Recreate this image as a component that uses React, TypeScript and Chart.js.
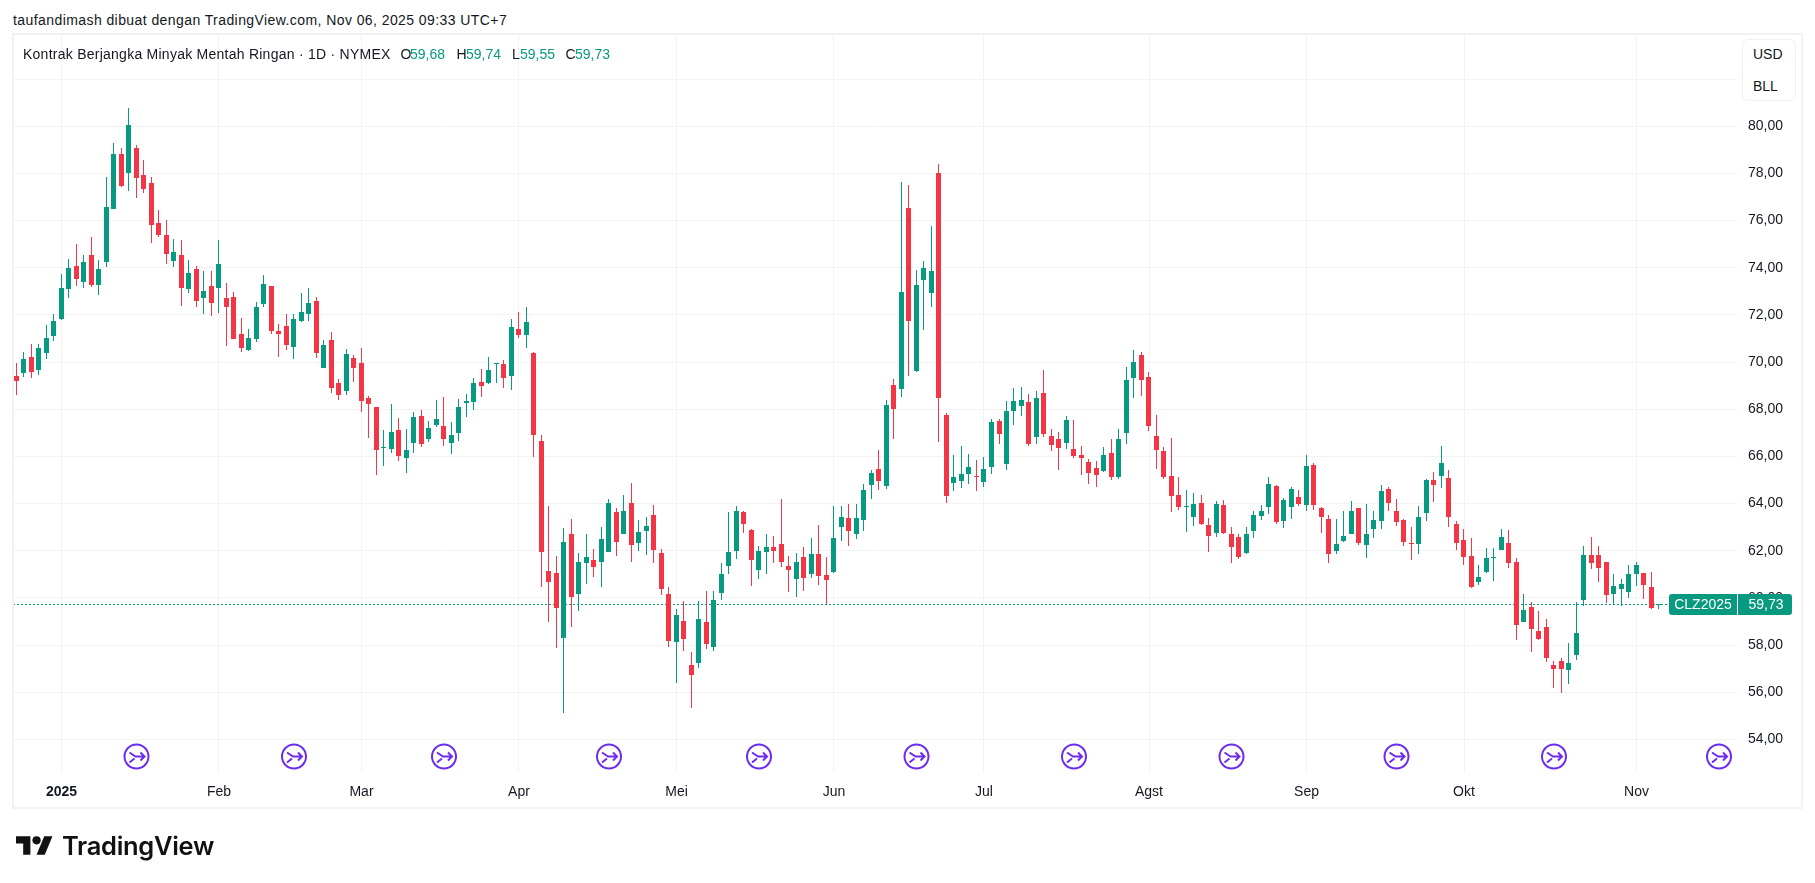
import React, { useEffect, useRef } from "react";
import { Chart, registerables } from "chart.js";

Chart.register(...registerables);

const opens = [
  69.41,69.54,70.22,69.67,70.39,71.11,71.83,73.10,74.08,73.40,
  74.54,73.27,74.25,76.50,78.83,78.02,79.08,77.94,77.60,75.90,
  75.39,74.29,74.54,73.10,73.95,72.72,73.23,73.14,72.72,72.76,
  71.19,70.52,70.98,72.47,73.23,71.32,71.53,70.64,71.74,72.04,
  72.59,69.75,70.94,69.12,68.78,70.18,69.96,68.48,68.10,66.37,
  66.32,67.12,65.94,66.57,67.72,66.74,67.34,67.29,66.57,67.00,
  68.28,68.31,69.16,69.12,69.94,69.92,69.41,71.41,71.15,70.37,
  66.65,61.14,61.06,58.30,62.71,60.17,61.48,61.61,61.52,61.95,
  63.64,62.71,64.02,62.33,62.84,63.52,61.90,60.17,58.13,59.02,
  57.15,57.24,58.98,57.92,60.21,61.35,61.99,63.64,62.88,61.18,
  61.95,62.16,62.29,61.35,60.80,61.73,61.01,61.86,60.97,61.10,
  63.01,63.39,62.71,63.30,64.79,65.47,64.75,69.03,68.86,76.54,
  69.62,73.48,72.93,78.02,67.76,64.87,64.96,65.25,65.17,64.91,
  65.55,67.50,65.68,67.93,68.14,68.31,66.82,68.69,66.87,66.74,
  66.57,66.31,66.06,65.76,65.51,65.38,66.14,65.13,66.99,69.33,
  70.30,69.37,66.87,66.23,65.17,64.36,63.87,63.43,64.02,63.09,
  62.75,63.94,62.71,62.58,61.90,62.84,63.47,63.85,64.75,63.26,
  63.85,64.28,63.94,65.64,63.81,63.35,61.99,62.41,62.71,63.81,
  62.24,62.92,63.26,64.62,63.69,63.30,62.33,62.29,63.60,65.00,
  65.17,65.09,63.14,62.46,61.78,60.68,61.10,61.70,62.04,62.33,
  61.53,58.98,59.62,58.60,58.77,57.16,57.33,56.95,57.58,59.91,
  61.82,61.82,61.53,60.17,60.38,60.25,61.02,61.06,60.47,59.68,
];
const highs = [
  69.95,70.42,70.76,70.76,71.56,72.04,73.74,74.37,75.01,74.54,
  75.31,74.33,77.85,79.29,79.08,80.78,79.21,78.57,77.85,76.45,
  76.03,75.22,75.18,74.33,74.08,73.87,73.87,75.18,73.36,72.97,
  71.87,71.41,72.55,73.70,73.23,71.62,72.04,72.04,72.93,73.14,
  72.76,70.94,71.28,69.29,70.56,70.30,70.60,68.56,68.10,67.12,
  68.23,67.63,67.16,67.89,67.97,67.50,68.39,68.52,67.46,68.44,
  68.65,69.33,69.71,70.22,69.96,70.09,71.83,72.13,72.32,70.41,
  66.91,63.90,61.78,62.96,63.35,61.90,62.71,62.07,63.01,64.19,
  63.81,64.36,64.87,63.30,63.43,63.94,62.07,60.46,59.53,59.87,
  57.71,59.87,60.29,60.29,61.48,63.64,63.90,63.69,62.92,62.20,
  62.71,62.63,64.19,61.78,61.90,62.16,62.54,63.09,61.73,63.90,
  63.90,63.98,63.98,64.83,65.42,66.27,68.39,69.28,77.64,77.51,
  73.91,74.29,75.77,78.40,67.84,66.06,66.44,66.10,65.85,65.98,
  67.59,67.59,68.35,68.90,68.94,68.65,68.77,69.66,67.16,67.04,
  67.71,67.54,66.44,65.89,65.81,66.40,66.74,67.16,69.79,70.51,
  70.43,69.58,67.76,66.40,66.78,65.13,64.58,64.45,64.36,63.39,
  64.11,64.15,63.00,62.71,63.00,63.69,63.94,65.13,64.79,64.24,
  64.70,64.58,66.06,65.72,63.85,63.52,63.35,63.69,64.11,63.81,
  63.98,63.69,64.79,64.70,64.19,63.35,63.00,63.90,65.04,65.34,
  66.45,65.43,63.26,62.93,62.54,61.40,62.12,62.12,62.93,62.88,
  61.70,60.17,59.83,59.45,59.11,57.33,57.45,58.09,59.83,62.20,
  62.59,62.20,61.53,61.02,60.81,61.40,61.53,61.06,61.10,59.74,
];
const lows = [
  68.61,69.37,69.33,69.46,70.13,70.90,71.79,72.72,73.23,73.14,
  73.19,72.85,74.03,76.50,77.43,77.26,76.96,77.17,75.05,75.32,
  74.16,74.03,72.38,72.93,72.34,72.04,71.96,72.08,70.68,70.98,
  70.43,70.47,70.85,72.34,71.19,70.22,70.52,70.13,71.70,71.74,
  70.18,69.75,68.69,68.39,68.61,69.16,67.89,66.78,65.21,65.60,
  66.15,65.81,65.30,66.15,66.40,66.61,67.25,66.44,66.11,66.66,
  67.67,67.97,68.52,69.07,69.12,68.90,68.82,71.02,70.60,65.98,
  60.46,58.98,57.88,55.12,58.77,59.44,60.59,60.89,60.46,61.95,
  61.78,62.71,61.52,61.99,61.82,61.48,60.12,57.92,56.39,57.75,
  55.33,57.03,57.83,57.75,59.91,61.00,61.65,62.75,60.50,60.80,
  61.01,61.48,61.31,60.25,60.04,60.29,60.84,60.55,59.74,61.06,
  62.41,62.20,62.50,62.84,64.19,64.58,64.62,66.74,68.52,69.41,
  69.58,71.36,72.34,66.61,64.03,64.53,64.66,64.83,64.53,64.70,
  65.25,66.53,65.42,67.33,67.71,66.44,66.53,66.82,66.23,65.42,
  66.31,65.93,65.21,64.83,64.70,65.34,65.00,65.04,66.53,68.48,
  68.56,67.08,65.47,65.04,63.64,63.73,62.80,63.05,63.09,61.95,
  62.58,62.71,61.48,61.65,61.86,62.54,63.30,63.56,63.13,62.97,
  63.35,63.90,63.69,63.73,62.75,61.48,61.86,62.37,62.71,62.24,
  61.69,62.54,62.92,63.69,63.05,62.20,61.61,61.86,63.26,64.07,
  64.66,63.01,62.04,61.40,60.42,60.55,61.06,60.72,62.04,61.27,
  58.22,58.98,57.71,58.22,57.29,56.18,55.97,56.35,57.37,59.66,
  61.23,60.68,59.79,59.70,59.66,60.00,60.51,59.96,59.53,59.55,
];
const closes = [
  69.20,70.13,69.58,70.60,71.02,71.74,73.14,74.00,73.53,74.25,
  73.27,73.95,76.58,78.83,77.47,80.06,77.81,77.34,75.82,75.39,
  74.59,74.67,73.14,73.78,72.59,73.02,72.51,74.16,72.34,70.98,
  70.60,71.02,72.34,73.31,71.32,71.19,70.73,71.83,72.13,72.51,
  70.39,70.73,68.90,68.61,70.35,69.75,68.35,68.23,66.27,66.40,
  67.04,66.02,66.27,67.67,66.53,67.21,67.59,66.74,66.91,68.10,
  68.34,69.12,68.99,69.67,69.96,69.33,71.49,71.15,71.70,66.91,
  61.95,60.67,59.57,62.37,60.04,61.52,61.73,61.31,62.50,64.02,
  62.37,63.69,62.24,62.79,63.05,62.03,60.38,58.17,59.27,58.26,
  56.73,59.11,58.05,59.91,61.01,61.95,63.69,63.13,61.61,61.99,
  62.16,61.99,61.52,61.18,61.52,60.84,61.86,60.93,60.76,62.54,
  63.43,62.84,63.39,64.58,65.30,64.96,68.18,68.01,72.97,71.74,
  73.27,73.99,73.86,68.48,64.32,65.13,65.25,65.55,65.13,65.47,
  67.46,66.95,67.93,68.35,68.39,66.53,68.48,66.95,66.48,66.36,
  67.54,66.02,65.93,65.30,65.21,66.06,65.13,66.74,69.24,70.00,
  69.24,67.29,66.27,65.13,64.32,63.85,63.90,63.98,63.13,62.62,
  63.98,62.75,62.16,61.73,62.71,63.52,63.69,64.83,63.22,64.15,
  64.62,63.98,65.59,63.94,63.43,61.86,62.29,62.62,63.69,62.33,
  62.71,63.30,64.53,64.02,63.22,62.37,62.29,63.43,65.00,64.79,
  65.72,63.43,62.33,61.74,60.47,60.89,61.70,61.74,62.59,61.48,
  58.85,59.49,58.68,58.26,57.45,56.99,56.99,57.24,58.52,61.82,
  61.48,61.27,60.13,60.51,60.59,61.02,61.40,60.55,59.58,59.73,
];

const priceTicks = [54,56,58,60,62,64,66,68,70,72,74,76,78,80,82];
const monthIndex = [6,27,46,67,88,109,129,151,172,193,216];
const monthLabels = ["2025","Feb","Mar","Apr","Mei","Jun","Jul","Agst","Sep","Okt","Nov"];
const eventIndex = [16,37,57,79,99,120,141,162,184,205,227];
const lastPrice = 59.73;
const lastPriceText = "59,73";
const symbolText = "CLZ2025";
const headerText = "taufandimash dibuat dengan TradingView.com, Nov 06, 2025 09:33 UTC+7";
const legendTitle = "Kontrak Berjangka Minyak Mentah Ringan · 1D · NYMEX";

const GREEN = "#089981";
const RED = "#F23645";
const GRID = "#f3f3f3";
const INK = "#131722";
const PURPLE = "#6c2bf0";
const FONT = "'Liberation Sans', sans-serif";

const colorOf = (i: number) => (closes[i] >= opens[i] ? GREEN : RED);
const indices = opens.map((_, i) => i);

const snapPlugin = {
  id: "snap",
  afterDatasetsUpdate(chart: any) {
    chart.data.datasets.forEach((ds: any, d: number) => {
      const els = chart.getDatasetMeta(d).data;
      if (ds.type === "line") {
        els.forEach((el: any) => {
          el.x = Math.round(el.x);
          el.y = Math.floor(el.y) + 0.5;
        });
        return;
      }
      els.forEach((el: any) => {
        const top = Math.round(Math.min(el.y, el.base));
        let bottom = Math.round(Math.max(el.y, el.base));
        if (bottom - top < 1) bottom = top + 1;
        el.x = Math.ceil(el.x) - 0.5;
        el.y = top;
        el.base = bottom;
      });
    });
  },
};

const overlayPlugin = {
  id: "overlay",
  afterDraw(chart: any) {
    const { ctx, scales } = chart;
    const xs = scales.x;
    const ys = scales.y;
    ctx.save();
    // event marks
    eventIndex.forEach((i) => {
      const cx = xs.getPixelForValue(i);
      const cy = 756.5;
      ctx.strokeStyle = PURPLE;
      ctx.lineWidth = 2;
      ctx.beginPath();
      ctx.arc(cx, cy, 12, 0, Math.PI * 2);
      ctx.stroke();
      ctx.beginPath();
      ctx.moveTo(cx - 7, cy - 4);
      ctx.lineTo(cx - 1, cy);
      ctx.lineTo(cx + 8, cy);
      ctx.moveTo(cx + 4, cy - 4);
      ctx.lineTo(cx + 8, cy);
      ctx.lineTo(cx + 4, cy + 4);
      ctx.moveTo(cx - 7, cy + 6);
      ctx.lineTo(cx - 2, cy + 2);
      ctx.stroke();
    });
    // last-price tags
    const y = Math.round(ys.getPixelForValue(lastPrice));
    const top = y - 10;
    const h = 21;
    ctx.fillStyle = GREEN;
    ctx.beginPath();
    ctx.roundRect(1669, top, 68, h, [3, 0, 0, 3]);
    ctx.fill();
    ctx.beginPath();
    ctx.roundRect(1738, top, 54, h, [0, 3, 3, 0]);
    ctx.fill();
    ctx.fillStyle = "#ffffff";
    ctx.font = `14px ${FONT}`;
    ctx.textAlign = "center";
    ctx.textBaseline = "middle";
    ctx.fillText(symbolText, 1703, y + 1);
    ctx.fillText(lastPriceText, 1766, y + 1);
    ctx.restore();
  },
};

const abs = (left: number, top: number, extra: React.CSSProperties = {}): React.CSSProperties => ({
  position: "absolute",
  left,
  top,
  whiteSpace: "nowrap",
  lineHeight: "18px",
  fontFamily: FONT,
  fontSize: 14,
  color: INK,
  ...extra,
});

export default function App() {
  const ref = useRef<HTMLCanvasElement | null>(null);
  useEffect(() => {
    const chart = new Chart(ref.current as HTMLCanvasElement, {
      type: "bar",
      data: {
        datasets: [
          {
            type: "line",
            data: [{ x: -1, y: lastPrice }, { x: 230, y: lastPrice }],
            borderColor: GREEN,
            borderWidth: 1,
            borderDash: [2, 2],
            pointRadius: 0,
            order: 3,
          } as any,
          {
            label: "wick",
            data: indices.map((i) => ({ x: i, y: [lows[i], highs[i]] })),
            backgroundColor: indices.map(colorOf),
            barThickness: 1,
            grouped: false,
            inflateAmount: 0,
            order: 2,
          } as any,
          {
            label: "body",
            data: indices.map((i) => ({ x: i, y: [opens[i], closes[i]] })),
            backgroundColor: indices.map(colorOf),
            barThickness: 5,
            grouped: false,
            inflateAmount: 0,
            order: 1,
          } as any,
        ],
      },
      options: {
        responsive: false,
        devicePixelRatio: 1,
        animation: false,
        events: [],
        layout: { padding: { left: 14, top: 35, right: 15, bottom: 75 } },
        plugins: { legend: { display: false }, tooltip: { enabled: false }, title: { display: false } },
        scales: {
          x: {
            type: "linear",
            offset: false,
            min: -1 / 3,
            max: 229.4,
            grid: { color: GRID, offset: false, drawTicks: false, lineWidth: 1 },
            border: { display: false },
            afterBuildTicks(scale: any) {
              scale.ticks = monthIndex.map((value) => ({ value }));
            },
            afterFit(scale: any) {
              scale.height = 36;
            },
            ticks: {
              autoSkip: false,
              maxRotation: 0,
              padding: 12,
              color: INK,
              font: (c: any) => ({ family: FONT, size: 14, weight: c.index === 0 ? "bold" : "normal" }),
              callback: (v: any) => monthLabels[monthIndex.indexOf(Number(v))] ?? "",
            },
          },
          y: {
            type: "linear",
            position: "right",
            min: 52.62,
            max: 83.87,
            grid: { color: GRID, drawTicks: false, lineWidth: 1 },
            border: { display: false },
            afterBuildTicks(scale: any) {
              scale.ticks = priceTicks.map((value) => ({ value }));
            },
            afterFit(scale: any) {
              scale.width = 63;
            },
            ticks: {
              autoSkip: false,
              padding: 11,
              color: INK,
              font: { family: FONT, size: 14 },
              callback: (v: any) => (Number(v) > 80 ? "" : Number(v).toFixed(2).replace(".", ",")),
            },
          },
        },
      } as any,
      plugins: [snapPlugin, overlayPlugin],
    } as any);
    return () => chart.destroy();
  }, []);

  const legend: [string, number, string][] = [
    ["O", 400.5, INK], ["59,68", 410, GREEN],
    ["H", 456.5, INK], ["59,74", 466, GREEN],
    ["L", 512, INK], ["59,55", 520, GREEN],
    ["C", 565.5, INK], ["59,73", 575, GREEN],
  ];

  return (
    <div style={{ position: "absolute", left: 0, top: 0, width: 1815, height: 883, background: "#fff", overflow: "hidden" }}>
      <div style={abs(13, 11, { letterSpacing: 0.42 })}>{headerText}</div>
      <div style={{ position: "absolute", left: 12, top: 33, width: 1791, height: 776, boxSizing: "border-box", border: "2px solid #f2f2f2" }} />
      <canvas ref={ref} width={1815} height={883} style={{ position: "absolute", left: 0, top: 0, width: 1815, height: 883 }} />
      <div style={abs(23, 45, { letterSpacing: 0.25 })}>{legendTitle}</div>
      {legend.map(([t, x, c], i) => (
        <div key={i} style={abs(x, 45, { color: c })}>{t}</div>
      ))}
      <div style={{ position: "absolute", left: 1742, top: 39, width: 54, height: 62, boxSizing: "border-box", border: "1px solid #f0f0f0", borderRadius: 6, background: "#fff" }} />
      <div style={abs(1753, 45)}>USD</div>
      <div style={abs(1753, 77)}>BLL</div>
      <svg width={37} height={29} viewBox="0 0 36 28" style={{ position: "absolute", left: 15.7, top: 831.6 }}>
        <path d="M14 22H7V11H0V4h14v18zM28 22h-8l7.5-18h8L28 22z" fill="#111" />
        <circle cx={20} cy={8} r={4} fill="#111" />
      </svg>
      <div style={abs(62, 831, { fontFamily: "Inter, sans-serif", fontWeight: 600, fontSize: 25.5, lineHeight: "30px", color: "#111", letterSpacing: -0.3 })}>TradingView</div>
    </div>
  );
}
